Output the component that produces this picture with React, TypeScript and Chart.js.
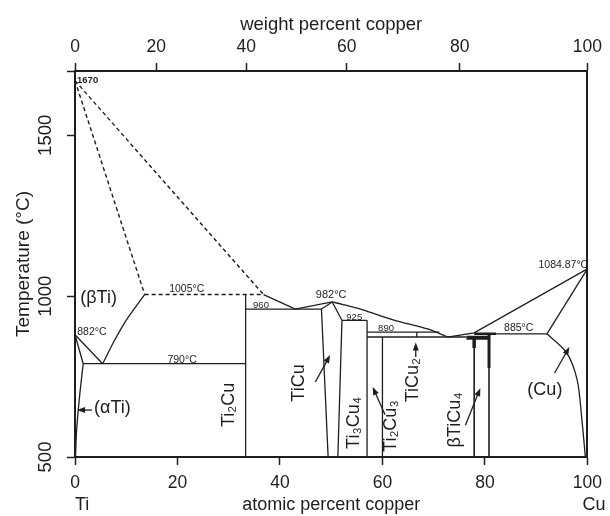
import React, { useEffect, useRef } from "react";
import { Chart, registerables } from "chart.js";
Chart.register(...registerables);

type P = { x: number; y: number };

// ---- axis ticks ----
const atomicTicks = [0, 20, 40, 60, 80, 100];
const weightTicks = [0, 20, 40, 60, 80, 100];
const tempTicks = [500, 1000, 1500];
const TI_MASS = 47.867;
const CU_MASS = 63.546;
const wtToAt = (w: number) =>
  w <= 0 ? 0 : w >= 100 ? 100 : (100 * (w / CU_MASS)) / (w / CU_MASS + (100 - w) / TI_MASS);

// ---- phase boundaries (at.% Cu, °C) ----
const liquidusTiDashed: P[] = [{ x: 0, y: 1670 }, { x: 36.8, y: 1005 }];
const solidusTiDashed: P[] = [{ x: 0, y: 1670 }, { x: 13.6, y: 1005 }];
const peritectic1005: P[] = [{ x: 13.6, y: 1005 }, { x: 36.8, y: 1005 }];
const liquidusTi2Cu: P[] = [{ x: 36.8, y: 1005 }, { x: 43.0, y: 960 }, { x: 50.2, y: 982 }];
const eutectic960: P[] = [{ x: 33.3, y: 960 }, { x: 48.1, y: 960 }];
const ti2CuLine: P[] = [{ x: 33.3, y: 1005 }, { x: 33.3, y: 500 }];
const betaSolvus: P[] = [{ x: 13.6, y: 1005 }, { x: 10.2, y: 930 }, { x: 7.7, y: 862 }, { x: 5.4, y: 790 }];
const betaTransus: P[] = [{ x: 0, y: 880 }, { x: 5.4, y: 790 }];
const alphaTransus: P[] = [{ x: 0, y: 880 }, { x: 1.6, y: 790 }];
const eutectoid790: P[] = [{ x: 1.6, y: 790 }, { x: 33.3, y: 790 }];
const alphaSolvus: P[] = [{ x: 1.6, y: 790 }, { x: 0.9, y: 690 }, { x: 0.3, y: 580 }, { x: 0.1, y: 500 }];
const tiCuLeft: P[] = [{ x: 50.2, y: 982 }, { x: 48.1, y: 960 }, { x: 49.4, y: 500 }];
const tiCuRight: P[] = [{ x: 50.2, y: 982 }, { x: 52.1, y: 925 }, { x: 51.3, y: 500 }];
const peritectic925: P[] = [{ x: 52.1, y: 925 }, { x: 57.0, y: 925 }];
const ti3Cu4Line: P[] = [{ x: 57.0, y: 925 }, { x: 57.0, y: 500 }];
const liquidusTiCu: P[] = [
  { x: 50.2, y: 982 }, { x: 52.3, y: 974 }, { x: 56.0, y: 958 },
  { x: 62.4, y: 925 }, { x: 68.8, y: 898 }, { x: 72.7, y: 873 },
];
const peritectic890: P[] = [{ x: 57.0, y: 888 }, { x: 71.1, y: 888 }];
const eutectic873: P[] = [{ x: 57.0, y: 873 }, { x: 76.4, y: 873 }];
const ti2Cu3Line: P[] = [{ x: 60.0, y: 873 }, { x: 60.0, y: 500 }];
const tiCu2Line: P[] = [{ x: 66.7, y: 888 }, { x: 66.7, y: 873 }];
const liquidusCu: P[] = [{ x: 72.7, y: 873 }, { x: 77.9, y: 886 }, { x: 100, y: 1085 }];
const betaTiCu4Top: P[] = [{ x: 77.9, y: 883 }, { x: 82.2, y: 883 }];
const betaTiCu4Bar: P[] = [{ x: 76.4, y: 871 }, { x: 81.0, y: 871 }];
const betaTiCu4LeftThick: P[] = [{ x: 77.9, y: 871 }, { x: 77.9, y: 839 }];
const betaTiCu4Left: P[] = [{ x: 77.9, y: 839 }, { x: 77.9, y: 500 }];
const betaTiCu4RightThick: P[] = [{ x: 80.8, y: 883 }, { x: 80.8, y: 777 }];
const betaTiCu4Right: P[] = [{ x: 80.8, y: 777 }, { x: 80.8, y: 500 }];
const eutectic885: P[] = [{ x: 82.2, y: 883 }, { x: 92.1, y: 883 }];
const solidusCu: P[] = [{ x: 92.1, y: 883 }, { x: 100, y: 1085 }];
const cuSolvus: P[] = [
  { x: 92.1, y: 883 }, { x: 95.9, y: 825 }, { x: 98.0, y: 740 },
  { x: 98.9, y: 620 }, { x: 99.6, y: 500 },
];

// ---- annotations (text, at.% Cu, °C) ----
const smallLabels = [
  { t: "1670", x: 0.4, y: 1672, s: 9.5, b: true, a: "left" },
  { t: "1005°C", x: 21.8, y: 1022, s: 10.5 },
  { t: "960", x: 36.3, y: 971, s: 9.5 },
  { t: "790°C", x: 20.9, y: 801, s: 10.5 },
  { t: "882°C", x: 3.3, y: 889, s: 10.5 },
  { t: "982°C", x: 50.0, y: 1004, s: 11 },
  { t: "925", x: 54.5, y: 935, s: 9.5 },
  { t: "890", x: 60.7, y: 901, s: 9.5 },
  { t: "885°C", x: 86.6, y: 901, s: 10.5 },
  { t: "1084.87°C", x: 95.3, y: 1095, s: 10.5 },
];
const phaseLabels = [
  { t: "(βTi)", x: 4.6, y: 994, r: 0 },
  { t: "(αTi)", x: 7.3, y: 652, r: 0 },
  { t: "Ti₂Cu", x: 30.0, y: 662, r: -90 },
  { t: "TiCu", x: 43.8, y: 730, r: -90 },
  { t: "Ti₃Cu₄", x: 54.5, y: 606, r: -90 },
  { t: "Ti₂Cu₃", x: 61.6, y: 596, r: -90 },
  { t: "TiCu₂", x: 65.9, y: 739, r: -90 },
  { t: "βTiCu₄", x: 74.2, y: 615, r: -90 },
  { t: "(Cu)", x: 91.7, y: 708, r: 0 },
];
const arrows = [
  { x1: 3.3, y1: 646, x2: 0.4, y2: 646 },
  { x1: 46.9, y1: 733, x2: 49.8, y2: 817 },
  { x1: 60.5, y1: 631, x2: 58.1, y2: 718 },
  { x1: 66.5, y1: 811, x2: 66.5, y2: 856 },
  { x1: 76.2, y1: 599, x2: 79.1, y2: 714 },
  { x1: 93.6, y1: 761, x2: 96.5, y2: 842 },
];

const INK = "#1e1e1e";
const FONT = "'Liberation Sans', Arial, Helvetica, sans-serif";

export default function App() {
  const ref = useRef<HTMLCanvasElement | null>(null);

  useEffect(() => {
    if (!ref.current) return;
    const line = (data: P[], width = 1.3, dash: number[] = [], tension = 0) => ({
      data,
      showLine: true,
      pointRadius: 0,
      borderColor: INK,
      backgroundColor: INK,
      borderWidth: width,
      borderDash: dash,
      tension,
      fill: false,
      xAxisID: "x",
      yAxisID: "y",
    });
    const datasets = [
      line(liquidusTiDashed, 1.4, [4, 3]),
      line(solidusTiDashed, 1.4, [4, 3]),
      line(peritectic1005, 1.4, [4, 3]),
      line(liquidusTi2Cu),
      line(eutectic960),
      line(ti2CuLine),
      line(betaSolvus, 1.3, [], 0.3),
      line(betaTransus),
      line(alphaTransus),
      line(eutectoid790),
      line(alphaSolvus, 1.3, [], 0.3),
      line(tiCuLeft),
      line(tiCuRight),
      line(peritectic925),
      line(ti3Cu4Line),
      line(liquidusTiCu, 1.3, [], 0.3),
      line(peritectic890),
      line(eutectic873),
      line(ti2Cu3Line),
      line(tiCu2Line),
      line(liquidusCu),
      line(betaTiCu4Top, 2.5),
      line(betaTiCu4Bar, 4),
      line(betaTiCu4LeftThick, 3.5),
      line(betaTiCu4Left, 1.6),
      line(betaTiCu4RightThick, 3),
      line(betaTiCu4Right, 1.6),
      line(eutectic885),
      line(solidusCu),
      line(cuSolvus, 1.3, [], 0.3),
    ];

    const annot = {
      id: "annot",
      afterDraw(chart: any) {
        const ctx = chart.ctx as CanvasRenderingContext2D;
        const xs = chart.scales.x;
        const ys = chart.scales.y;
        ctx.save();
        ctx.fillStyle = INK;
        ctx.strokeStyle = INK;
        ctx.textBaseline = "middle";
        // y tick labels (rotated)
        ctx.font = `18.5px ${FONT}`;
        ctx.textAlign = "center";
        for (const v of tempTicks) {
          ctx.save();
          ctx.translate(46, ys.getPixelForValue(v));
          ctx.rotate(-Math.PI / 2);
          ctx.fillText(String(v), 0, 0);
          ctx.restore();
        }
        // end labels of bottom axis
        ctx.font = `18px ${FONT}`;
        ctx.textAlign = "left";
        ctx.fillText("Ti", xs.getPixelForValue(0), chart.height - 10.5);
        ctx.fillText("Cu", xs.getPixelForValue(100) - 5, chart.height - 10.5);
        // small temperature labels
        for (const l of smallLabels as any[]) {
          ctx.font = `${l.b ? "bold " : ""}${l.s}px ${FONT}`;
          ctx.textAlign = l.a || "center";
          ctx.fillText(l.t, xs.getPixelForValue(l.x), ys.getPixelForValue(l.y));
        }
        // phase labels
        ctx.font = `18px ${FONT}`;
        ctx.textAlign = "center";
        for (const l of phaseLabels) {
          ctx.save();
          ctx.translate(xs.getPixelForValue(l.x), ys.getPixelForValue(l.y));
          ctx.rotate((l.r * Math.PI) / 180);
          ctx.fillText(l.t, 0, 0);
          ctx.restore();
        }
        // arrows
        ctx.lineWidth = 1.3;
        for (const a of arrows) {
          const x1 = xs.getPixelForValue(a.x1);
          const y1 = ys.getPixelForValue(a.y1);
          const x2 = xs.getPixelForValue(a.x2);
          const y2 = ys.getPixelForValue(a.y2);
          const ang = Math.atan2(y2 - y1, x2 - x1);
          const hl = 8;
          const hw = 3;
          ctx.beginPath();
          ctx.moveTo(x1, y1);
          ctx.lineTo(x2 - Math.cos(ang) * hl * 0.8, y2 - Math.sin(ang) * hl * 0.8);
          ctx.stroke();
          ctx.beginPath();
          ctx.moveTo(x2, y2);
          ctx.lineTo(
            x2 - Math.cos(ang) * hl - Math.sin(ang) * hw,
            y2 - Math.sin(ang) * hl + Math.cos(ang) * hw
          );
          ctx.lineTo(
            x2 - Math.cos(ang) * hl + Math.sin(ang) * hw,
            y2 - Math.sin(ang) * hl - Math.cos(ang) * hw
          );
          ctx.closePath();
          ctx.fill();
        }
        ctx.restore();
      },
    };

    const tickGrid = {
      display: true,
      drawOnChartArea: false,
      drawTicks: true,
      tickLength: 8,
      tickColor: INK,
      tickWidth: 1.5,
    };
    const border = { display: true, color: INK, width: 2 };

    const chart = new Chart(ref.current, {
      type: "scatter",
      data: { datasets: datasets as any },
      plugins: [annot],
      options: {
        responsive: false,
        animation: false,
        devicePixelRatio: 1,
        events: [],
        layout: { padding: 0 },
        font: { family: FONT },
        plugins: { legend: { display: false }, tooltip: { enabled: false } },
        scales: {
          x: {
            type: "linear",
            position: "bottom",
            min: 0,
            max: 100,
            afterBuildTicks: (s: any) => {
              s.ticks = atomicTicks.map((v) => ({ value: v }));
            },
            afterFit: (s: any) => {
              s.height = 59;
            },
            ticks: { color: INK, font: { size: 17.5, family: FONT }, padding: 8, maxRotation: 0, autoSkip: false },
            grid: tickGrid,
            border,
            title: {
              display: true,
              text: "atomic percent copper",
              color: INK,
              font: { size: 18, family: FONT },
              padding: { top: 0, bottom: 0 },
            },
          },
          x2: {
            type: "linear",
            position: "top",
            min: 0,
            max: 100,
            afterBuildTicks: (s: any) => {
              s.ticks = weightTicks.map((w) => ({ value: wtToAt(w) }));
            },
            afterFit: (s: any) => {
              s.height = 71;
            },
            ticks: {
              color: INK,
              font: { size: 17.5, family: FONT },
              padding: 5,
              maxRotation: 0,
              autoSkip: false,
              callback: (_v: any, i: number) => String(weightTicks[i]),
            },
            grid: tickGrid,
            border,
            title: {
              display: true,
              text: "weight percent copper",
              color: INK,
              font: { size: 18.5, family: FONT },
              padding: { top: 13.5, bottom: 0 },
            },
          },
          y: {
            type: "linear",
            position: "left",
            min: 500,
            max: 1700,
            afterBuildTicks: (s: any) => {
              s.ticks = [...tempTicks, 1700].map((v) => ({ value: v }));
            },
            afterFit: (s: any) => {
              s.width = 75;
            },
            ticks: { display: false },
            grid: tickGrid,
            border,
            title: {
              display: true,
              text: "Temperature (°C)",
              color: INK,
              font: { size: 19, family: FONT },
              padding: { top: 12, bottom: 0 },
            },
          },
          y2: {
            type: "linear",
            position: "right",
            min: 500,
            max: 1700,
            afterFit: (s: any) => {
              s.width = 19;
            },
            ticks: { display: false },
            grid: { display: false, drawTicks: false },
            border,
          },
        },
      } as any,
    });
    return () => chart.destroy();
  }, []);

  return (
    <div style={{ position: "absolute", left: 0, top: 0, width: 610, height: 516, background: "#fff" }}>
      <canvas ref={ref} width={610} height={516} style={{ display: "block" }} />
    </div>
  );
}
